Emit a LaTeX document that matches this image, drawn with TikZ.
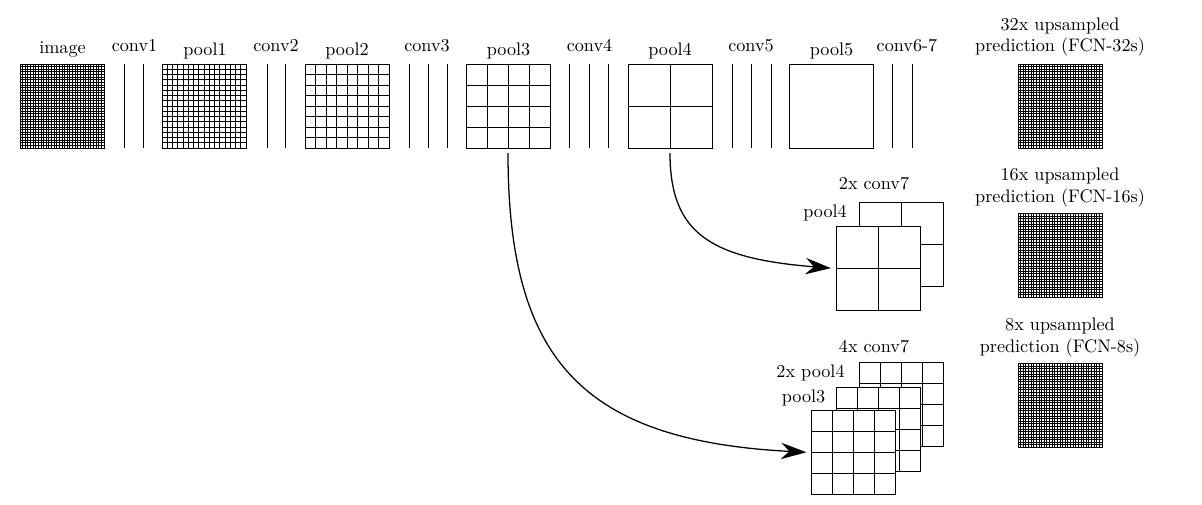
\documentclass[tikz,border=0pt]{standalone}
\usepackage{tikz}
\usetikzlibrary{arrows.meta}

\begin{document}
\begin{tikzpicture}[x=0.55pt, y=-0.55pt,
			line width=0.55pt,
			fmap/.style={
				rectangle,
				draw,
				fill=white,
				inner sep=0pt,
				minimum size=46.2pt,
				path picture={
					\pgfmathsetmacro\cellw{46.2/#1}
					\ifnum#1>1
						\foreach \k in {1,...,\numexpr#1-1\relax}
						{
							\draw ([xshift=\k*\cellw pt]path picture bounding box.south west)
								-- ([xshift=\k*\cellw pt]path picture bounding box.north west);
							\draw ([yshift=\k*\cellw pt]path picture bounding box.south west)
								-- ([yshift=\k*\cellw pt]path picture bounding box.south east);
						}
					\fi
				}},
			tag/.style={
				anchor=base,
				inner sep=0pt},
			skip/.style={
				line width=0.7pt,
				shorten <=2.5pt,
				shorten >=2.5pt,
				-{Stealth[length=14pt, width=9pt]}}]
			\useasboundingbox (0, 0) rectangle (1202, 504);
			% main path
			\node (image) at (62, 106) [fmap=32] {};
			\node (pool1) at (204, 106) [fmap=16] {};
			\node (pool2) at (347, 106) [fmap=8] {};
			\node (pool3) at (508, 106) [fmap=4] {};
			\node (pool4) at (670, 106) [fmap=2] {};
			\node (pool5) at (831, 106) [fmap=1] {};
			\foreach \x in {124, 143, 267, 285, 409, 428, 447, 569, 589, 608, 732, 751, 771, 892, 912}
				\draw (\x, 64) -- (\x, 148);
			\node (image-l) at (62.5, 53) [tag] {image};
			\node (pool1-l) at (205, 55) [tag] {pool1};
			\node (pool2-l) at (347, 55) [tag] {pool2};
			\node (pool3-l) at (508.5, 55) [tag] {pool3};
			\node (pool4-l) at (670, 55) [tag] {pool4};
			\node (pool5-l) at (831.5, 55) [tag] {pool5};
			\node (conv1-l) at (134.5, 51.5) [tag] {conv1};
			\node (conv2-l) at (276, 51.5) [tag] {conv2};
			\node (conv3-l) at (427, 51.5) [tag] {conv3};
			\node (conv4-l) at (589.5, 51.5) [tag] {conv4};
			\node (conv5-l) at (751, 51.5) [tag] {conv5};
			\node (conv67-l) at (907, 51.5) [tag] {conv6-7};
			% predictions
			\node (fcn32) at (1060, 106) [fmap=32] {};
			\node (fcn16) at (1060, 255.5) [fmap=32] {};
			\node (fcn8) at (1060, 405.5) [fmap=32] {};
			\node (fcn32-l) at (1060, 57) [anchor=south, inner sep=0pt, align=center] {32x upsampled\\prediction (FCN-32s)};
			\node (fcn16-l) at (1060, 207.5) [anchor=south, inner sep=0pt, align=center] {16x upsampled\\prediction (FCN-16s)};
			\node (fcn8-l) at (1060, 357.5) [anchor=south, inner sep=0pt, align=center] {8x upsampled\\prediction (FCN-8s)};
			% fused stacks
			\node (c7a) at (901.5, 244) [fmap=2] {};
			\node (p4a) at (878, 268.5) [fmap=2] {};
			\node (c7b) at (901.5, 404) [fmap=4] {};
			\node (p4b) at (878, 429) [fmap=4] {};
			\node (p3b) at (853.5, 452.5) [fmap=4] {};
			\node (c7a-l) at (874, 189) [tag] {2x conv7};
			\node (p4a-l) at (825, 217) [tag] {pool4};
			\node (c7b-l) at (874, 352) [tag] {4x conv7};
			\node (p4b-l) at (810.5, 377) [tag] {2x pool4};
			\node (p3b-l) at (803.5, 402) [tag] {pool3};
			% skips
			\draw[skip] (pool4.south) .. controls +(0, 85) and +(-125, -10) .. (p4a.west);
			\draw[skip] (pool3.south) .. controls +(0, 210) and +(-230, -12) .. (p3b.west);
\end{tikzpicture}
\end{document}
